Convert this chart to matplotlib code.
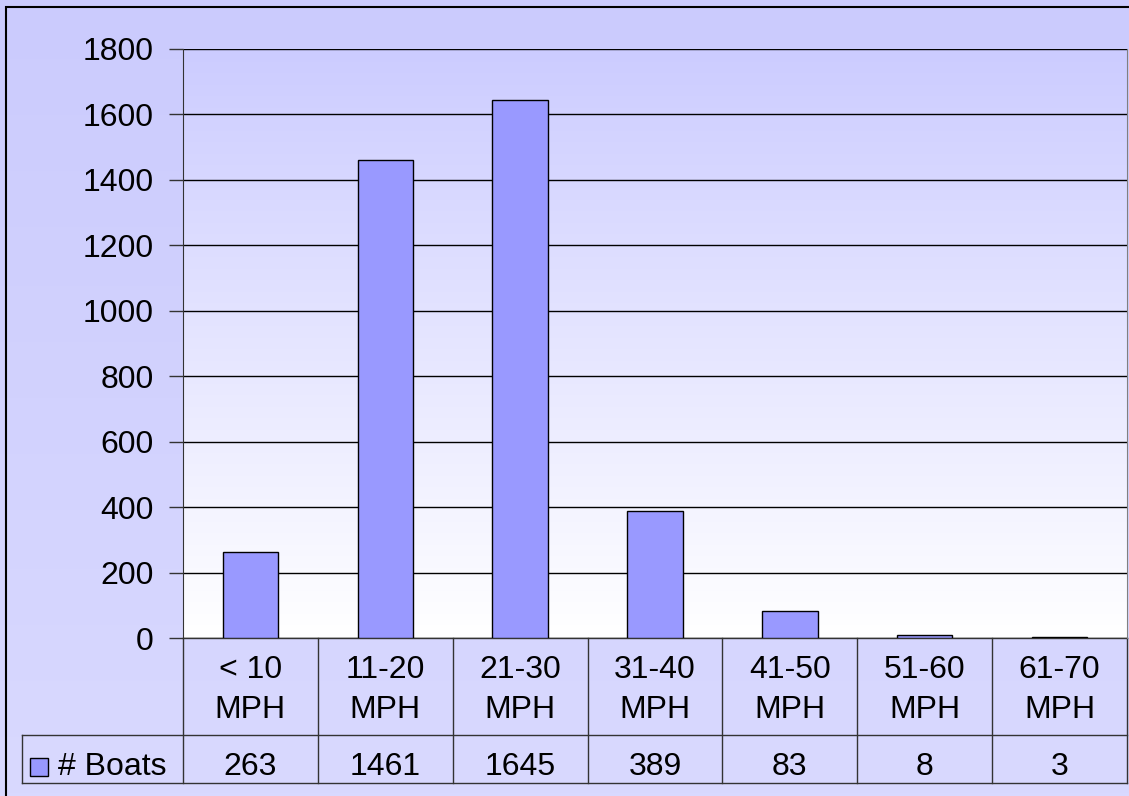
import numpy as np
import matplotlib
matplotlib.use("Agg")
import matplotlib.pyplot as plt
from matplotlib.colors import LinearSegmentedColormap
from matplotlib.patches import Rectangle

categories = ["< 10\nMPH", "11-20\nMPH", "21-30\nMPH", "31-40\nMPH",
              "41-50\nMPH", "51-60\nMPH", "61-70\nMPH"]
boats = [263, 1461, 1645, 389, 83, 8, 3]
series_name = "# Boats"
yticks = [0, 200, 400, 600, 800, 1000, 1200, 1400, 1600, 1800]

plt.rcParams['font.family'] = ['Liberation Sans', 'DejaVu Sans']
FS = 23
W, H = 1129, 796
fig = plt.figure(figsize=(W / 100, H / 100), dpi=100)

# figure background gradient + border
bg = fig.add_axes([0, 0, 1, 1], zorder=-10)
bg_cmap = LinearSegmentedColormap.from_list("bg", ["#CBCBFD", "#D9D9FF"])
bg.imshow(np.linspace(0, 1, 256).reshape(-1, 1), cmap=bg_cmap, aspect="auto",
          extent=[0, 1, 0, 1], origin="upper")
bg.add_patch(Rectangle((6 / W, -0.1), 1.2, 1 - 7 / H + 0.1, fill=False,
                       edgecolor="black", lw=1.5, transform=bg.transAxes))
bg.set_xlim(0, 1)
bg.set_ylim(0, 1)
bg.axis("off")

# plot area in pixels
x0, x1, y_top, y_bot = 183, 1127, 49, 638
ph = y_bot - y_top
pw = x1 - x0
ax = fig.add_axes([x0 / W, 1 - y_bot / H, pw / W, ph / H])
ax.patch.set_alpha(0)
pa_cmap = LinearSegmentedColormap.from_list("pa", ["#CCCCFF", "#FFFFFF"])
ax.imshow(np.linspace(0, 1, 256).reshape(-1, 1), cmap=pa_cmap, aspect="auto",
          extent=[0, 1, 0, 1], origin="upper", transform=ax.transAxes, zorder=0)

n = len(categories)
xs = np.arange(n)
ax.bar(xs, boats, width=0.41, color="#9999FF", edgecolor="black", lw=1, zorder=3)
ax.set_xlim(-0.5, n - 0.5)
ax.set_ylim(0, 1800)
ax.set_yticks(yticks)
ax.set_yticklabels([str(v) for v in yticks], fontsize=FS)
ax.yaxis.grid(True, color="black", lw=1, zorder=1)
ax.tick_params(axis="y", length=10, width=1, color="#333333", pad=11)
ax.set_xticks([])
for s in ["top", "bottom"]:
    ax.spines[s].set_visible(False)
ax.spines["left"].set_color("#333333")
ax.spines["right"].set_color("#808080")

# data table below the axes
row1 = (735 - y_bot) / ph
row2 = (783 - y_bot) / ph
leg_left = (22 - x0) / pw
tr = ax.transAxes
lc = "#333333"
kw = dict(transform=tr, clip_on=False, color=lc, lw=1)
ax.plot([0, 0], [0, -row2], **kw)
ax.plot([1, 1], [0, -row2], **kw)
ax.plot([0, 1], [0, 0], **kw)
ax.plot([leg_left, 1], [-row1, -row1], **kw)
ax.plot([leg_left, 1], [-row2, -row2], **kw)
ax.plot([leg_left, leg_left], [-row1, -row2], **kw)
for i in range(1, n):
    ax.plot([i / n, i / n], [0, -row2], **kw)
val_y = -(767 - y_bot) / ph
cat_y = -(690 - y_bot) / ph
for i, (c, v) in enumerate(zip(categories, boats)):
    xc = (i + 0.5) / n
    ax.text(xc, cat_y, c, transform=tr, ha="center", va="center",
            fontsize=FS, linespacing=1.45, clip_on=False)
    ax.text(xc, val_y, str(v), transform=tr, ha="center",
            va="center", fontsize=FS, clip_on=False)

# legend key in table
kx0 = (30 - x0) / pw
kw_ = 18 / pw
kh = 18 / ph
ax.add_patch(Rectangle((kx0, val_y - kh / 2), kw_, kh, transform=tr, clip_on=False,
                       facecolor="#9999FF", edgecolor="black", lw=1))
ax.text((58 - x0) / pw, val_y, series_name, transform=tr,
        ha="left", va="center", fontsize=FS, clip_on=False)

fig.savefig("out.png", dpi=100)
